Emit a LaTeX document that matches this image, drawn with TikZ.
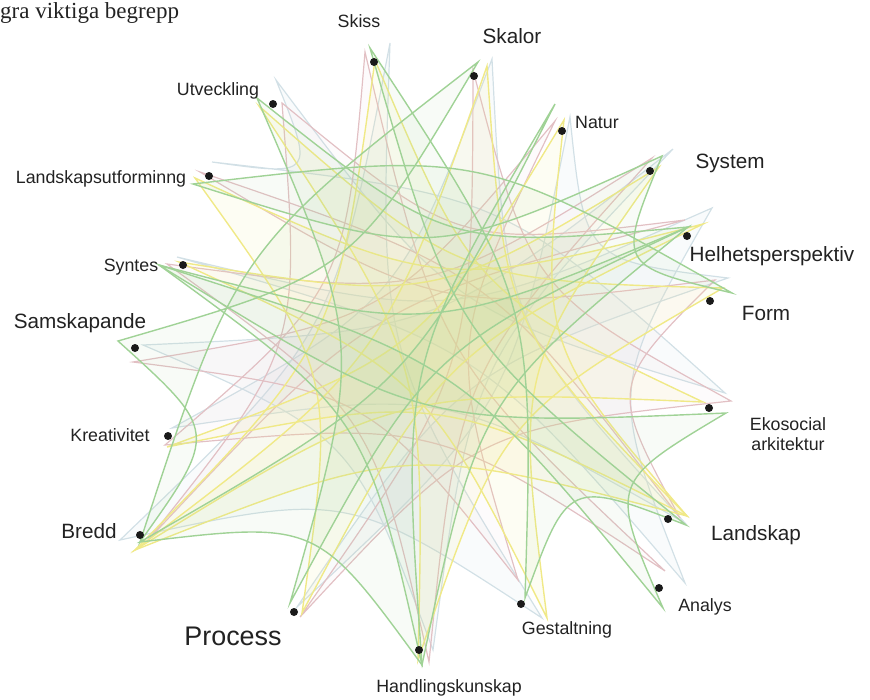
\documentclass[tikz,border=0pt]{standalone}
\usepackage{fontspec}
\setmainfont{Liberation Sans}
\newfontfamily\titlefont{Liberation Serif}
\usetikzlibrary{calc}
\definecolor{gstroke}{RGB}{160,210,150}
\definecolor{ystroke}{RGB}{240,233,135}
\definecolor{pstroke}{RGB}{226,192,196}
\definecolor{cstroke}{RGB}{210,224,230}
\definecolor{dotc}{RGB}{26,26,26}
\definecolor{txt}{RGB}{34,34,34}
\newcommand\mkctl[3]{%
  \coordinate (tP) at ($(#1)!(tG)!(#2)$);
  \coordinate (tM) at ($(#1)!0.5!(#2)$);
  \coordinate (tQ) at ($(tM)+(tG)-(tP)$);
  \coordinate (#3) at ($(tM)!90pt!(tQ)$);}
\newcommand\ctri[4]{%
  \coordinate (tG) at ($0.3333*(#2)+0.3333*(#3)+0.3334*(#4)$);
  \mkctl{#2}{#3}{kA}\mkctl{#3}{#4}{kB}\mkctl{#4}{#2}{kC}
  \path[#1] (#2) .. controls (kA) .. (#3) .. controls (kB) .. (#4) .. controls (kC) .. cycle;}
\tikzset{
  gshape/.style={draw=gstroke, fill=gstroke, fill opacity=0.08, line width=1.4pt},
  yshape/.style={draw=ystroke, fill=ystroke, fill opacity=0.10, line width=1.4pt},
  pshape/.style={draw=pstroke, fill=pstroke, fill opacity=0.06, line width=1.2pt},
  cshape/.style={draw=cstroke, fill=cstroke, fill opacity=0.13, line width=1.2pt},
  dot/.style={circle, fill=dotc, inner sep=0pt, minimum size=8pt},
  lab/.style={text=txt, inner sep=0pt, text height=0.72em, text depth=0pt},
  small/.style={lab, font=\fontsize{17.8}{20}\selectfont},
  mid/.style={lab, font=\fontsize{20.7}{23}\selectfont},
  big/.style={lab, font=\fontsize{26.9}{30}\selectfont},
}
\begin{document}
\begin{tikzpicture}[x=1pt, y=-1pt]
\useasboundingbox (0,0) rectangle (870,699);
% green tips
\coordinate (gSkiss) at (370,48);
\coordinate (gSkalor) at (478,62);
\coordinate (gNatur) at (555,104);
\coordinate (gSystem) at (662,156);
\coordinate (gHelh) at (688,227);
\coordinate (gForm) at (732,293);
\coordinate (gEko) at (726,413);
\coordinate (gLandskap) at (686,525);
\coordinate (gAnalys) at (663,608);
\coordinate (gGestalt) at (525,598);
\coordinate (gHandl) at (422,665);
\coordinate (gProcess) at (290,603);
\coordinate (gBredd) at (140,542);
\coordinate (gSamsk) at (118,341);
\coordinate (gSyntes) at (159,265);
\coordinate (gLandsk) at (193,184);
\coordinate (gUtv) at (257,98);
% yellow tips
\coordinate (ySkiss) at (375,60);
\coordinate (ySkalor) at (487,66);
\coordinate (yNatur) at (564,120);
\coordinate (ySystem) at (659,167);
\coordinate (yHelh) at (703,224);
\coordinate (yForm) at (723,288);
\coordinate (yEko) at (703,402);
\coordinate (yLandskap) at (687,516);
\coordinate (yGestalt) at (547,618);
\coordinate (yHandl) at (418,660);
\coordinate (yProcess) at (302,613);
\coordinate (yBredd) at (135,550);
\coordinate (yKreat) at (167,447);
\coordinate (ySyntes) at (179,262);
\coordinate (yLandsk) at (195,178);
\coordinate (yUtv) at (259,106);
% pink tips
\coordinate (pSkiss) at (365,52);
\coordinate (pSkalor) at (473,70);
\coordinate (pNatur) at (555,121);
\coordinate (pSystem) at (652,158);
\coordinate (pHelh) at (685,220);
\coordinate (pForm) at (715,280);
\coordinate (pEko) at (731,401);
\coordinate (pLandskap) at (680,518);
\coordinate (pAnalys) at (665,571);
\coordinate (pGestalt) at (518,580);
\coordinate (pHandl) at (429,662);
\coordinate (pProcess) at (300,617);
\coordinate (pBredd) at (148,540);
\coordinate (pKreat) at (165,445);
\coordinate (pSamsk) at (133,362);
\coordinate (pSyntes) at (167,264);
\coordinate (pLandsk) at (200,172);
\coordinate (pUtv) at (282,103);
% grey tips
\coordinate (cSkiss) at (390,43);
\coordinate (cSkalor) at (492,59);
\coordinate (cNatur) at (570,117);
\coordinate (cSystem) at (673,149);
\coordinate (cHelh) at (712,208);
\coordinate (cForm) at (728,278);
\coordinate (cEko) at (725,393);
\coordinate (cLandskap) at (685,523);
\coordinate (cAnalys) at (685,583);
\coordinate (cGestalt) at (542,618);
\coordinate (cHandl) at (433,650);
\coordinate (cProcess) at (297,607);
\coordinate (cBredd) at (120,540);
\coordinate (cKreat) at (172,428);
\coordinate (cSamsk) at (143,345);
\coordinate (cSyntes) at (177,257);
\coordinate (cLandsk) at (212,162);
\coordinate (cUtv) at (276,80);
% grey shapes
\ctri{cshape}{cSkiss}{cBredd}{cGestalt}
\ctri{cshape}{cSkalor}{cKreat}{cLandskap}
\ctri{cshape}{cNatur}{cProcess}{cForm}
\ctri{cshape}{cSystem}{cSamsk}{cHandl}
\ctri{cshape}{cHelh}{cSyntes}{cAnalys}
\ctri{cshape}{cEko}{cLandsk}{cUtv}
% pink shapes
\ctri{pshape}{pSkiss}{pKreat}{pAnalys}
\ctri{pshape}{pSkalor}{pProcess}{pEko}
\ctri{pshape}{pNatur}{pSamsk}{pGestalt}
\ctri{pshape}{pSystem}{pSyntes}{pHandl}
\ctri{pshape}{pHelh}{pUtv}{pBredd}
\ctri{pshape}{pForm}{pLandsk}{pLandskap}
% yellow shapes
\ctri{yshape}{yKreat}{yNatur}{yLandskap}
\ctri{yshape}{yBredd}{ySkiss}{yEko}
\ctri{yshape}{yProcess}{yHelh}{yLandsk}
\ctri{yshape}{yHandl}{yForm}{yUtv}
\ctri{yshape}{yGestalt}{ySystem}{ySyntes}
\ctri{yshape}{ySkalor}{yBredd}{yLandskap}
% green shapes
\ctri{gshape}{gSamsk}{gBredd}{gSkalor}
\ctri{gshape}{gEko}{gAnalys}{gSyntes}
\ctri{gshape}{gSystem}{gForm}{gLandsk}
\ctri{gshape}{gHelh}{gProcess}{gUtv}
\ctri{gshape}{gSkiss}{gGestalt}{gLandskap}
\ctri{gshape}{gNatur}{gHandl}{gBredd}
\ctri{gshape}{gSyntes}{gHelh}{gHandl}
% dots
\node[dot] (dSkiss) at (374,62) {};
\node[dot] (dSkalor) at (474,76) {};
\node[dot] (dNatur) at (562,131) {};
\node[dot] (dSystem) at (650,171) {};
\node[dot] (dHelh) at (687,236) {};
\node[dot] (dForm) at (710,301) {};
\node[dot] (dEko) at (709,408) {};
\node[dot] (dLandskap) at (668,519) {};
\node[dot] (dAnalys) at (659,588) {};
\node[dot] (dGestalt) at (521,604) {};
\node[dot] (dHandl) at (419,650) {};
\node[dot] (dProcess) at (294,612) {};
\node[dot] (dBredd) at (140,535) {};
\node[dot] (dKreat) at (168,436) {};
\node[dot] (dSamsk) at (135,348) {};
\node[dot] (dSyntes) at (183,265) {};
\node[dot] (dLandsk) at (209,176) {};
\node[dot] (dUtv) at (273,104) {};
% labels
\node[small] (lSkiss) at (359,24) {Skiss};
\node[mid] (lSkalor) at (512,40) {Skalor};
\node[small] (lNatur) at (597,125) {Natur};
\node[mid] (lSystem) at (730,165) {System};
\node[mid] (lHelh) at (772,258) {Helhetsperspektiv};
\node[mid] (lForm) at (766,317) {Form};
\node[small, align=center, text height=, text depth=] (lEko) at (788,434) {Ekosocial\\arkitektur};
\node[mid] (lLandskap) at (756,537) {Landskap};
\node[small] (lAnalys) at (705,608) {Analys};
\node[small] (lGestalt) at (567,631) {Gestaltning};
\node[small] (lHandl) at (449,689) {Handlingskunskap};
\node[big] (lProcess) at (233,642) {Process};
\node[mid] (lBredd) at (89,535) {Bredd};
\node[small] (lKreat) at (110,438) {Kreativitet};
\node[mid] (lSamsk) at (80,325) {Samskapande};
\node[small] (lSyntes) at (131,268) {Syntes};
\node[small] (lLandsk) at (101,180) {Landskapsutforminng};
\node[small] (lUtv) at (218,92) {Utveckling};
\node[anchor=base west, inner sep=0pt, text=txt, font=\titlefont\fontsize{23}{25}\selectfont] (title) at (0,18) {gra viktiga begrepp};
\end{tikzpicture}
\end{document}
